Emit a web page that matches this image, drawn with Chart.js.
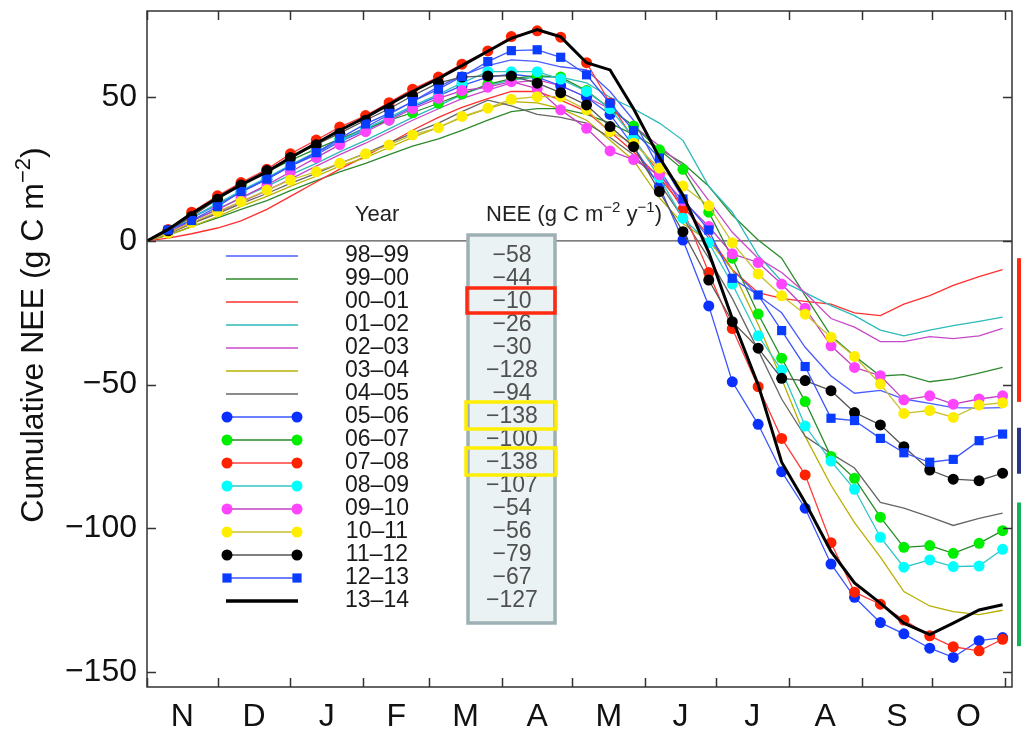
<!DOCTYPE html>
<html>
<head>
<meta charset="utf-8">
<script src="https://cdn.jsdelivr.net/npm/chart.js@4.4.1/dist/chart.umd.min.js"></script>
<style>
  html, body { margin: 0; padding: 0; background: #fff; }
  #wrap { width: 1028px; height: 736px; }
</style>
</head>
<body>
<div id="wrap"><canvas id="grafico" width="1028" height="736"></canvas></div>
<script>
// dias desde 1 de novembro (posições dos marcadores)
const days = [0, 9, 19, 30, 40, 51, 61, 72, 82, 93, 103, 113, 124, 134, 145, 155, 166, 176, 187, 197, 207, 218, 228, 239, 249, 260, 270, 280, 291, 301, 312, 322, 333, 343, 354, 364];

const monthStarts = [0, 30, 61, 92, 120, 151, 181, 212, 242, 273, 304, 334, 365];
const monthMids = [15, 45.5, 76.5, 106, 135.5, 166, 196.5, 227, 257.5, 288.5, 319, 349.5];
const monthLabels = ['N', 'D', 'J', 'F', 'M', 'A', 'M', 'J', 'J', 'A', 'S', 'O'];
const yTicks = [-150, -100, -50, 0, 50];

const years = ['98–99', '99–00', '00–01', '01–02', '02–03', '03–04', '04–05', '05–06', '06–07', '07–08', '08–09', '09–10', '10–11', '11–12', '12–13', '13–14'];
const neeTotals = [-58, -44, -10, -26, -30, -128, -94, -138, -100, -138, -107, -54, -56, -79, -67, -127];

// NEE acumulado (g C m-2) por estação
const nee9899 = [0, 3.5, 8, 12.5, 17, 21.5, 26, 30.5, 35, 39.5, 44, 48.5, 53.7, 57.5, 61, 63, 62.5, 60.6, 59.5, 52, 42, 25, 12, 1, -10, -19, -25, -37, -47, -53, -52, -55, -56.5, -58, -58.2, -58];
const nee9900 = [0, 2, 5, 8, 11, 14, 17.5, 21, 24, 27, 30, 33, 35.5, 38.5, 42, 45, 46, 46, 44, 41, 37, 32, 27, 19, 9, 0.3, -6, -19, -33, -40, -47, -46.5, -49, -48, -46, -44];
const nee0001 = [0, 1, 2.5, 4.5, 7, 11, 15.5, 20.5, 25, 29.5, 34, 38.5, 43, 46.5, 49.5, 52, 52, 49, 45, 38, 31, 22, 12, 2, -10, -18, -20, -21, -22, -25, -26, -22, -19, -15.5, -12.4, -10];
const nee0102 = [0, 3, 7, 11, 15, 19, 23, 27, 31, 35, 39, 43, 47, 51, 54, 56, 57, 57, 55, 50, 46, 41, 35, 19, 10, -5, -14, -18, -22.5, -26, -31, -33, -31, -29.5, -28, -26.5];
const nee0203 = [0, 2.5, 6, 10, 13.5, 17.5, 21.5, 26, 30, 34, 38, 42, 46, 49.5, 52.5, 55, 56, 54, 50, 46, 40, 33, 26, 14, 3, -6, -11, -18, -27, -30, -35, -35, -33.3, -34, -33, -30.4];
const nee0304 = [0, 2, 5, 8.5, 12, 15.5, 19, 22.5, 26, 29, 32.5, 36, 39.5, 43, 46, 48.5, 48, 46, 42, 35, 28, 15, 6, 0, -10, -29, -48, -68, -85, -98, -110, -122, -127, -129, -130, -128.5];
const nee0405 = [0, 2.5, 6, 9.5, 13, 16.5, 20, 23.5, 27, 30.5, 34, 37.5, 41, 45, 49, 47, 44, 43, 41, 36, 30, 20, 8, -6, -20, -38, -55, -68, -74, -79, -91, -93, -96, -99, -96.5, -94.7];
const nee0506 = [0, 3.5, 8, 13, 17, 21.5, 26, 30, 34.5, 38.5, 42.5, 46.5, 50.5, 54, 57, 58, 57, 54, 50, 44, 33, 19, 0.3, -22.6, -49, -63.8, -80.3, -93, -112.4, -124, -132.8, -136.7, -141.7, -144.9, -139.1, -138];
const nee0607 = [0, 3.5, 9, 15, 19.5, 24, 28, 32, 35.5, 39, 42, 44.6, 47.9, 51.1, 54.5, 56.5, 57.5, 57, 52.3, 46, 40, 31.7, 24.9, 10, -6, -25.4, -40.8, -55.9, -75, -82.6, -96.1, -106.6, -106, -108.7, -105.2, -100.8];
const nee0708 = [0, 4, 10, 15.7, 20.3, 24.9, 30.3, 35.1, 39.6, 43.6, 48.1, 52.8, 57, 61.5, 66.1, 71.1, 73.1, 70.9, 62, 48, 35.4, 23.6, 11, -11, -30.5, -50.7, -68.7, -81.4, -105, -122.2, -126.4, -131.9, -137.4, -141.2, -142.6, -138.6];
const nee0809 = [0, 3.5, 8, 13, 17.5, 22, 26.5, 31, 35, 39, 43, 47, 51, 55, 58.9, 58.9, 58.9, 56.3, 52, 46, 36, 22, 7.9, -0.6, -15, -33, -44.9, -64.4, -76.6, -86.4, -103.1, -113.5, -111, -113.3, -113.1, -107.3];
const nee0910 = [0, 3, 7, 11, 15, 19.5, 24, 29, 33.5, 38, 42, 46, 49.6, 52.3, 53.5, 55.4, 53, 45.6, 39.2, 31.3, 28.3, 23, 14, 5, -4.5, -7.5, -15, -23.4, -36.5, -44, -46.9, -55.3, -53.9, -56.8, -55, -53.9];
const nee1011 = [0, 2.7, 6.4, 10.2, 13.7, 17.7, 21.2, 24.1, 27, 30.3, 33.4, 36.9, 39.4, 43.3, 46.2, 49.3, 50.2, 50.2, 45.6, 38, 34, 25.3, 19.1, 12.2, -0.6, -11.5, -19.1, -25.5, -33.5, -40.2, -49.8, -60, -59, -61.4, -57.1, -56.3];
const nee1112 = [0, 3.5, 8.5, 14.5, 19.5, 24.5, 29, 33.5, 37.5, 42, 46, 50.5, 55, 57, 57.4, 57.4, 54.9, 51.6, 47.3, 39.8, 32.8, 17.2, 3.2, -13.6, -28.1, -37.3, -47.8, -48.6, -52.1, -59.7, -64, -71.6, -79.7, -82.9, -83.4, -80.8];
const nee1213 = [0, 3.8, 7.1, 11.9, 17.2, 21.5, 26.1, 30.7, 35.7, 40.7, 44.4, 48.5, 52.8, 57.2, 62.4, 66.2, 66.5, 63.9, 57.8, 47.9, 38.4, 28.8, 14.6, 3.8, -13, -18.8, -31.2, -43.7, -61.7, -62.5, -68.7, -73.7, -77, -76, -69.5, -67.2];
const nee1314 = [0, 4, 9.5, 15, 19.5, 24, 29, 34, 38.5, 43, 47.5, 52, 56.5, 61, 66, 70.5, 73.5, 71, 62, 59.5, 46, 29, 16, -4, -27, -50, -77, -91, -108, -119, -126, -133, -137, -133, -128.4, -126.6];

// faixas verticais à direita (valores de NEE)
const rangeBars = [[-6, -56], [-65, -81], [-91, -141]];
const rangeColors = ['#ff2a10', '#2a3585', '#12b35a'];

// estilo de cada série
const series = [
  { data: nee9899, line: '#4a5cff', width: 1.3 },
  { data: nee9900, line: '#2e8a2e', width: 1.3 },
  { data: nee0001, line: '#ff3030', width: 1.3 },
  { data: nee0102, line: '#2cbaba', width: 1.3 },
  { data: nee0203, line: '#c848c8', width: 1.3 },
  { data: nee0304, line: '#b8b000', width: 1.3 },
  { data: nee0405, line: '#666666', width: 1.3 },
  { data: nee0506, line: '#3a55ff', width: 1.3, marker: 'circle', mark: '#0a30ff' },
  { data: nee0607, line: '#2a8a2a', width: 1.3, marker: 'circle', mark: '#00ee00' },
  { data: nee0708, line: '#ff3c3c', width: 1.3, marker: 'circle', mark: '#ff2200' },
  { data: nee0809, line: '#30c4c4', width: 1.3, marker: 'circle', mark: '#00ffff' },
  { data: nee0910, line: '#c040c0', width: 1.3, marker: 'circle', mark: '#ff44ff' },
  { data: nee1011, line: '#c8c030', width: 1.3, marker: 'circle', mark: '#ffee00' },
  { data: nee1112, line: '#555555', width: 1.3, marker: 'circle', mark: '#000000' },
  { data: nee1213, line: '#3a55ff', width: 1.3, marker: 'square', mark: '#0a3cff' },
  { data: nee1314, line: '#000000', width: 3 }
];

const FONT = '"Liberation Sans", Arial, Helvetica, sans-serif';

function toPoints(arr){
  return days.map((d, i) => ({ x: d, y: arr[i] }));
}

function markRadius(s){
  return s.marker === 'square' ? 6.5 : 5.5;
}

const datasets = series.map((s, i) => ({
  label: years[i],
  data: toPoints(s.data),
  borderColor: s.line,
  borderWidth: s.width,
  tension: 0,
  fill: false,
  pointStyle: s.marker === 'square' ? 'rect' : 'circle',
  pointRadius: s.marker ? (ctx => ctx.dataIndex === 0 ? 0 : markRadius(s)) : 0,
  pointBackgroundColor: s.mark || s.line,
  pointBorderColor: s.mark || s.line,
  pointBorderWidth: 0,
  order: series.length - i
}));

// texto com expoentes (partes: [texto, sobrescrito?])
function richWidth(ctx, parts, size){
  let w = 0;
  parts.forEach(([t, sup]) => {
    ctx.font = (sup ? Math.round(size * 0.68) : size) + 'px ' + FONT;
    w += ctx.measureText(t).width;
  });
  return w;
}
function drawRich(ctx, parts, x, y, size, align){
  let cx = align === 'center' ? x - richWidth(ctx, parts, size) / 2 : x;
  ctx.textAlign = 'left';
  ctx.textBaseline = 'alphabetic';
  parts.forEach(([t, sup]) => {
    ctx.font = (sup ? Math.round(size * 0.68) : size) + 'px ' + FONT;
    ctx.fillText(t, cx, sup ? y - size * 0.42 : y);
    cx += ctx.measureText(t).width;
  });
}

function drawMarker(ctx, s, x, y){
  const r = markRadius(s);
  ctx.fillStyle = s.mark;
  ctx.beginPath();
  if (s.marker === 'square') {
    const h = r * Math.SQRT1_2;
    ctx.rect(x - h, y - h, 2 * h, 2 * h);
  } else {
    ctx.arc(x, y, r, 0, Math.PI * 2);
  }
  ctx.fill();
}

const decor = {
  id: 'decor',
  beforeDatasetsDraw(chart){
    const { ctx, chartArea: a, scales: { y } } = chart;
    const y0 = y.getPixelForValue(0);
    ctx.save();
    ctx.strokeStyle = '#555';
    ctx.lineWidth = 1.2;
    ctx.beginPath(); ctx.moveTo(a.left, y0); ctx.lineTo(a.right, y0); ctx.stroke();
    ctx.restore();
  },
  afterDatasetsDraw(chart){
    const { ctx, chartArea: a, scales: { x, y } } = chart;
    ctx.save();

    // moldura e marcas para dentro
    ctx.strokeStyle = '#333';
    ctx.lineWidth = 1.5;
    ctx.strokeRect(a.left, a.top, a.right - a.left, a.bottom - a.top);
    const tl = 9;
    ctx.beginPath();
    monthStarts.forEach(d => {
      const px = Math.round(x.getPixelForValue(d)) + 0.5;
      ctx.moveTo(px, a.bottom); ctx.lineTo(px, a.bottom - tl);
      ctx.moveTo(px, a.top); ctx.lineTo(px, a.top + tl);
    });
    yTicks.forEach(v => {
      const py = Math.round(y.getPixelForValue(v)) + 0.5;
      ctx.moveTo(a.left, py); ctx.lineTo(a.left + tl, py);
      ctx.moveTo(a.right, py); ctx.lineTo(a.right - tl, py);
    });
    ctx.stroke();

    // faixas coloridas à direita
    rangeBars.forEach(([v0, v1], i) => {
      const p0 = y.getPixelForValue(v0), p1 = y.getPixelForValue(v1);
      ctx.fillStyle = rangeColors[i];
      ctx.fillRect(a.right + 5, p0, 4, p1 - p0);
    });

    // legenda em tabela
    const lg = { x0: 226, x1: 298, yearX: 377, neeX: 512, row0: 256, step: 23,
                 headY: 221, boxL: 468, boxR: 555, boxT: 235, boxB: 623 };
    ctx.fillStyle = '#eaf2f4';
    ctx.fillRect(lg.boxL, lg.boxT, lg.boxR - lg.boxL, lg.boxB - lg.boxT);
    ctx.strokeStyle = '#9db0b5';
    ctx.lineWidth = 3.5;
    ctx.strokeRect(lg.boxL, lg.boxT, lg.boxR - lg.boxL, lg.boxB - lg.boxT);

    ctx.fillStyle = '#222';
    drawRich(ctx, [['Year', false]], lg.yearX, lg.headY, 22, 'center');
    drawRich(ctx, [['NEE (g C m', false], ['−2', true], [' y', false], ['−1', true], [')', false]], 486, lg.headY, 22, 'left');

    series.forEach((s, i) => {
      const ry = lg.row0 + i * lg.step;
      ctx.strokeStyle = s.line;
      ctx.lineWidth = s.width === 3 ? 3.5 : 1.6;
      ctx.beginPath(); ctx.moveTo(lg.x0, ry); ctx.lineTo(lg.x1, ry); ctx.stroke();
      if (s.marker) { drawMarker(ctx, s, lg.x0 + 1, ry); drawMarker(ctx, s, lg.x1 - 1, ry); }
      ctx.font = '23px ' + FONT;
      ctx.textAlign = 'center';
      ctx.textBaseline = 'middle';
      ctx.fillStyle = '#1a1a1a';
      ctx.fillText(years[i], lg.yearX, ry);
      ctx.fillStyle = '#505050';
      ctx.fillText('−' + Math.abs(neeTotals[i]), lg.neeX, ry);
    });

    // destaques
    ctx.lineWidth = 3.5;
    ctx.strokeStyle = '#ff2a10';
    ctx.strokeRect(467, lg.row0 + 2 * lg.step - 14, 88, 25);
    ctx.strokeStyle = '#ffee00';
    [7, 9].forEach(k => ctx.strokeRect(466, lg.row0 + k * lg.step - 15, 90, 27));

    ctx.restore();
  },
  afterDraw(chart){
    const { ctx } = chart;
    ctx.save();
    ctx.translate(43, 335);
    ctx.rotate(-Math.PI / 2);
    ctx.fillStyle = '#111';
    drawRich(ctx, [['Cumulative NEE (g C m', false], ['−2', true], [')', false]], 0, 0, 32, 'center');
    ctx.restore();
  }
};

const grafico = new Chart(document.getElementById('grafico'), {
  type: 'line',
  data: { datasets },
  options: {
    responsive: false,
    animation: false,
    devicePixelRatio: 1,
    events: [],
    layout: { padding: { top: 11, right: 16, bottom: 0, left: 0 } },
    plugins: { legend: { display: false }, tooltip: { enabled: false } },
    scales: {
      x: {
        type: 'linear', min: 0, max: 368,
        grid: { display: false, drawTicks: false }, border: { display: false },
        afterBuildTicks: s => { s.ticks = monthMids.map(v => ({ value: v })); },
        afterFit: s => { s.height = 49; s.paddingLeft = 0; s.paddingRight = 0; },
        ticks: { autoSkip: false, maxRotation: 0, padding: 11, color: '#111',
                 font: { size: 32, family: FONT }, callback: (v, i) => monthLabels[i] }
      },
      y: {
        min: -155.2, max: 80,
        grid: { display: false, drawTicks: false }, border: { display: false },
        afterBuildTicks: s => { s.ticks = yTicks.map(v => ({ value: v })); },
        afterFit: s => { s.width = 147; s.paddingTop = 0; s.paddingBottom = 0; },
        ticks: { padding: 10, color: '#111', font: { size: 32, family: FONT },
                 callback: v => v < 0 ? '−' + Math.abs(v) : String(v) }
      }
    }
  },
  plugins: [decor]
});
</script>
</body>
</html>
